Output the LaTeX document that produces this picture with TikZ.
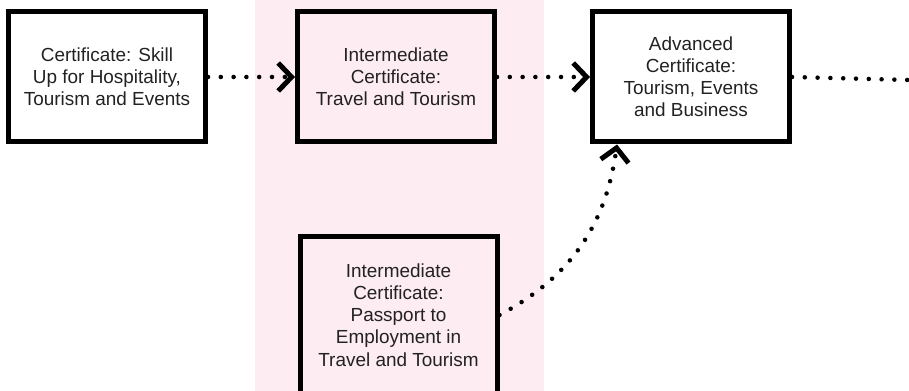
\documentclass[tikz,border=0pt]{standalone}
\usepackage{fontspec}
\setmainfont{Liberation Sans}
\usetikzlibrary{arrows.meta}
\definecolor{bandpink}{RGB}{253,236,242}
\definecolor{textgray}{RGB}{34,34,34}

\begin{document}
\begin{tikzpicture}[x=0.75pt, y=-0.75pt,
  course/.style={draw=black, line width=3.75pt, align=center, text=textgray,
    font=\fontsize{14.2}{16.6}\selectfont, minimum width=147.75pt, inner sep=0pt},
  dotline/.style={line width=3.4pt, line cap=round, dash pattern=on 0pt off 9.6pt},
  chevron/.style={-{Straight Barb[length=10pt, width=21pt, line width=3.75pt]}}]
\useasboundingbox (0,0) rectangle (909,391);
\clip (0,0) rectangle (909,391);

% Pink band behind the intermediate column
\fill[bandpink] (255,0) rectangle (544,391);

% Course boxes
\node[course, minimum height=97.5pt, fill=white] (skill) at (107,77) {Certificate: Skill\\Up for Hospitality,\\Tourism and Events};
\node[course, minimum height=97.5pt, fill=bandpink] (travel) at (396,77) {Intermediate\\Certificate:\\Travel and Tourism};
\node[course, minimum height=97.5pt, fill=white] (advanced) at (691,77) {Advanced\\Certificate:\\Tourism, Events\\and Business};
\node[course, minimum height=117pt, fill=bandpink] (passport) at (398.5,315) {Intermediate\\Certificate:\\Passport to\\Employment in\\Travel and Tourism};

% Pathway connectors
\coordinate (onward) at (909,80);
\draw[dotline, chevron] (skill.east) -- (travel.west);
\draw[dotline, chevron] (travel.east) -- (advanced.west);
\draw[dotline] (advanced.east) -- (onward);
\draw[dotline, chevron] (passport.east) to[out=28, in=-98] ([xshift=20.25pt]advanced.south west);
\end{tikzpicture}
\end{document}
